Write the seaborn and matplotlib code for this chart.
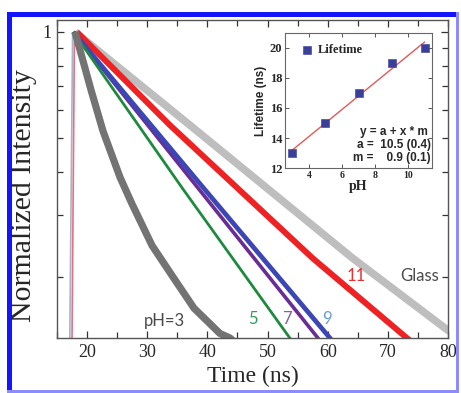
import numpy as np
import pandas as pd
import matplotlib
matplotlib.use("Agg")
import matplotlib.pyplot as plt
import matplotlib.ticker as mticker
from matplotlib.patches import Rectangle
import seaborn as sns

# ---------------- data ----------------
# decay curves: time (ns) and normalized intensity
glass_t = [18.0, 37.11, 64.19, 79.97, 80.6]
glass_i = [1.0, 0.542, 0.226, 0.141, 0.139]

ph11_t = [18.3, 33.79, 57.54, 73.16, 74.5]
ph11_i = [1.0, 0.542, 0.226, 0.134, 0.128]

ph7_t = [17.7, 58.37, 59.6]
ph7_i = [1.0, 0.134, 0.126]

ph9_t = [17.7, 39.0, 60.37, 61.6]
ph9_i = [1.0, 0.365, 0.134, 0.126]

ph5_t = [17.7, 35.86, 53.7, 55.0]
ph5_i = [1.0, 0.358, 0.134, 0.125]

ph3_t = [18.0, 20.66, 22.66, 25.48, 27.48, 30.80, 34.12, 37.77, 42.09, 43.75, 45.0]
ph3_i = [1.0, 0.683, 0.521, 0.385, 0.323, 0.246, 0.202, 0.163, 0.138, 0.134, 0.128]

# instrument rise (excitation edge)
rise_t = [16.9, 17.6]
rise_red_t = [17.3, 17.9]
rise_i = [0.05, 1.0]

# inset: lifetime vs pH
ph_vals = [3, 5, 7, 9, 11]
lifetime = [13, 15, 17, 19, 20]
fit_a = 10.5
fit_m = 0.9

curve_labels = ["pH=3", "5", "7", "9", "11", "Glass"]
x_ticks = [20, 30, 40, 50, 60, 70, 80]

# ---------------- figure ----------------
sns.set_style("ticks")
plt.rcParams["font.family"] = ["Liberation Serif", "DejaVu Serif"]

fig = plt.figure(figsize=(4.61, 3.93), dpi=100)
fig.patch.set_facecolor("white")

W, H = 461.0, 393.0
ax = fig.add_axes([57 / W, 1 - 338 / H, (448 - 57) / W, (338 - 20) / H])

def draw(tt, ii, color, lw):
    df = pd.DataFrame({"t": tt, "i": ii})
    sns.lineplot(data=df, x="t", y="i", ax=ax, color=color, linewidth=lw,
                 sort=False, estimator=None, solid_joinstyle="round",
                 solid_capstyle="butt")

draw(rise_t, rise_i, "#a8b4cc", 1.2)
draw(rise_red_t, rise_i, "#e8707c", 1.2)
draw(glass_t, glass_i, "#bebebe", 5.5)
draw(ph11_t, ph11_i, "#ee2222", 4.3)
draw(ph7_t, ph7_i, "#6a2d96", 2.6)
draw(ph9_t, ph9_i, "#3c46b4", 3.4)
draw(ph5_t, ph5_i, "#1e8a3e", 2.0)
draw(ph3_t, ph3_i, "#737373", 5.2)

ax.set_yscale("log")
ax.set_xlim(15.0, 80.0)
ax.set_ylim(0.134, 1.082)
ax.xaxis.set_major_locator(mticker.FixedLocator(x_ticks))
ax.xaxis.set_minor_locator(mticker.MultipleLocator(5))
ax.yaxis.set_major_locator(mticker.FixedLocator([1.0]))
ax.yaxis.set_major_formatter(mticker.FixedFormatter(["1"]))
ax.yaxis.set_minor_locator(mticker.FixedLocator([0.2, 0.3, 0.4, 0.5, 0.6, 0.7, 0.8, 0.9]))
ax.yaxis.set_minor_formatter(mticker.NullFormatter())
ax.tick_params(which="both", direction="in", top=True, right=True,
               color="#333333", width=0.9)
ax.tick_params(which="major", length=5, labelsize=13, pad=4)
ax.tick_params(which="minor", length=4)
for s in ax.spines.values():
    s.set_color("#555555")
    s.set_linewidth(1.0)

ax.set_xlabel("Time (ns)", fontsize=17, labelpad=4)
ax.set_ylabel("Normalized Intensity", fontsize=21.5)
ax.yaxis.set_label_coords(-0.05, 0.447)

lab_font = ["Lato", "DejaVu Sans"]
lab_pos = [(32.8, 0.150), (47.6, 0.152), (53.2, 0.152), (59.9, 0.152), (64.7, 0.202), (75.3, 0.202)]
lab_col = ["#4a4a4a", "#3a9a5a", "#8060a8", "#6a9ad8", "#e83030", "#4a4a4a"]
for txt, (xx, yy), c in zip(curve_labels, lab_pos, lab_col):
    ax.text(xx, yy, txt, color=c, fontsize=12, family=lab_font,
            ha="center", va="center")

# ---------------- inset ----------------
ins = fig.add_axes([285 / W, 1 - 168 / H, (432 - 285) / W, (168 - 33) / H])
df_in = pd.DataFrame({"pH": ph_vals, "Lifetime": lifetime})
fit_x = [ph_vals[0], ph_vals[-1]]
fit_y = [fit_a + fit_m * v for v in fit_x]
sns.lineplot(x=fit_x, y=fit_y, ax=ins, color="#e05a5a", linewidth=1.0)
sns.scatterplot(data=df_in, x="pH", y="Lifetime", ax=ins, marker="s", s=28,
                color="#3a3f9a", edgecolor="#3a3f9a", label="Lifetime", zorder=3)
ins.set_xlim(2.55, 11.45)
ins.set_ylim(12, 21)
ins.set_xticks([4, 6, 8, 10])
ins.set_yticks([12, 14, 16, 18, 20])
ins.tick_params(which="both", direction="in", length=3, width=0.7, color="#555555",
                top=True, right=True, pad=2)
for lbl in ins.get_yticklabels():
    lbl.set_fontsize(9)
    lbl.set_fontweight("bold")
for lbl in ins.get_xticklabels():
    lbl.set_fontsize(7)
    lbl.set_fontweight("bold")
for s in ins.spines.values():
    s.set_color("#666666")
    s.set_linewidth(0.8)
ins.set_xlabel("pH", fontsize=10, fontweight="bold", labelpad=0)
ins.set_ylabel("Lifetime (ns)", fontsize=8.5, fontweight="bold",
               family=["Liberation Sans", "DejaVu Sans"], labelpad=2)
leg = ins.legend(loc="upper left", bbox_to_anchor=(0.055, 0.975), frameon=False,
                 handletextpad=0.4, borderaxespad=0.2, handlelength=1.0,
                 prop={"weight": "bold", "size": 9, "family": "Liberation Serif"})
sans_b = ["Liberation Sans", "DejaVu Sans"]
ins.text(0.97, 0.27, "y = a + x * m", transform=ins.transAxes, ha="right",
         va="center", fontsize=8.5, fontweight="bold", family=sans_b)
ins.text(0.99, 0.17, "a =  %.1f (0.4)" % fit_a, transform=ins.transAxes, ha="right",
         va="center", fontsize=8.5, fontweight="bold", family=sans_b)
ins.text(0.99, 0.075, "m =    %.1f (0.1)" % fit_m, transform=ins.transAxes, ha="right",
         va="center", fontsize=8.5, fontweight="bold", family=sans_b)

# ---------------- blue frame ----------------
fig.patches.append(Rectangle((7 / W, 0), 5 / W, (393 - 12) / H, transform=fig.transFigure,
                             facecolor="#1414ff", edgecolor="none", zorder=10))
fig.patches.append(Rectangle((7 / W, 1 - 17 / H), (459 - 7) / W, 5 / H, transform=fig.transFigure,
                             facecolor="#1414ff", edgecolor="none", zorder=10))
fig.patches.append(Rectangle((456 / W, 0), 3 / W, (393 - 12) / H, transform=fig.transFigure,
                             facecolor="#8c8cff", edgecolor="none", zorder=10))
fig.patches.append(Rectangle((7 / W, 0), (459 - 7) / W, 3 / H, transform=fig.transFigure,
                             facecolor="#8c8cff", edgecolor="none", zorder=10))

fig.savefig("out.png", dpi=100)
